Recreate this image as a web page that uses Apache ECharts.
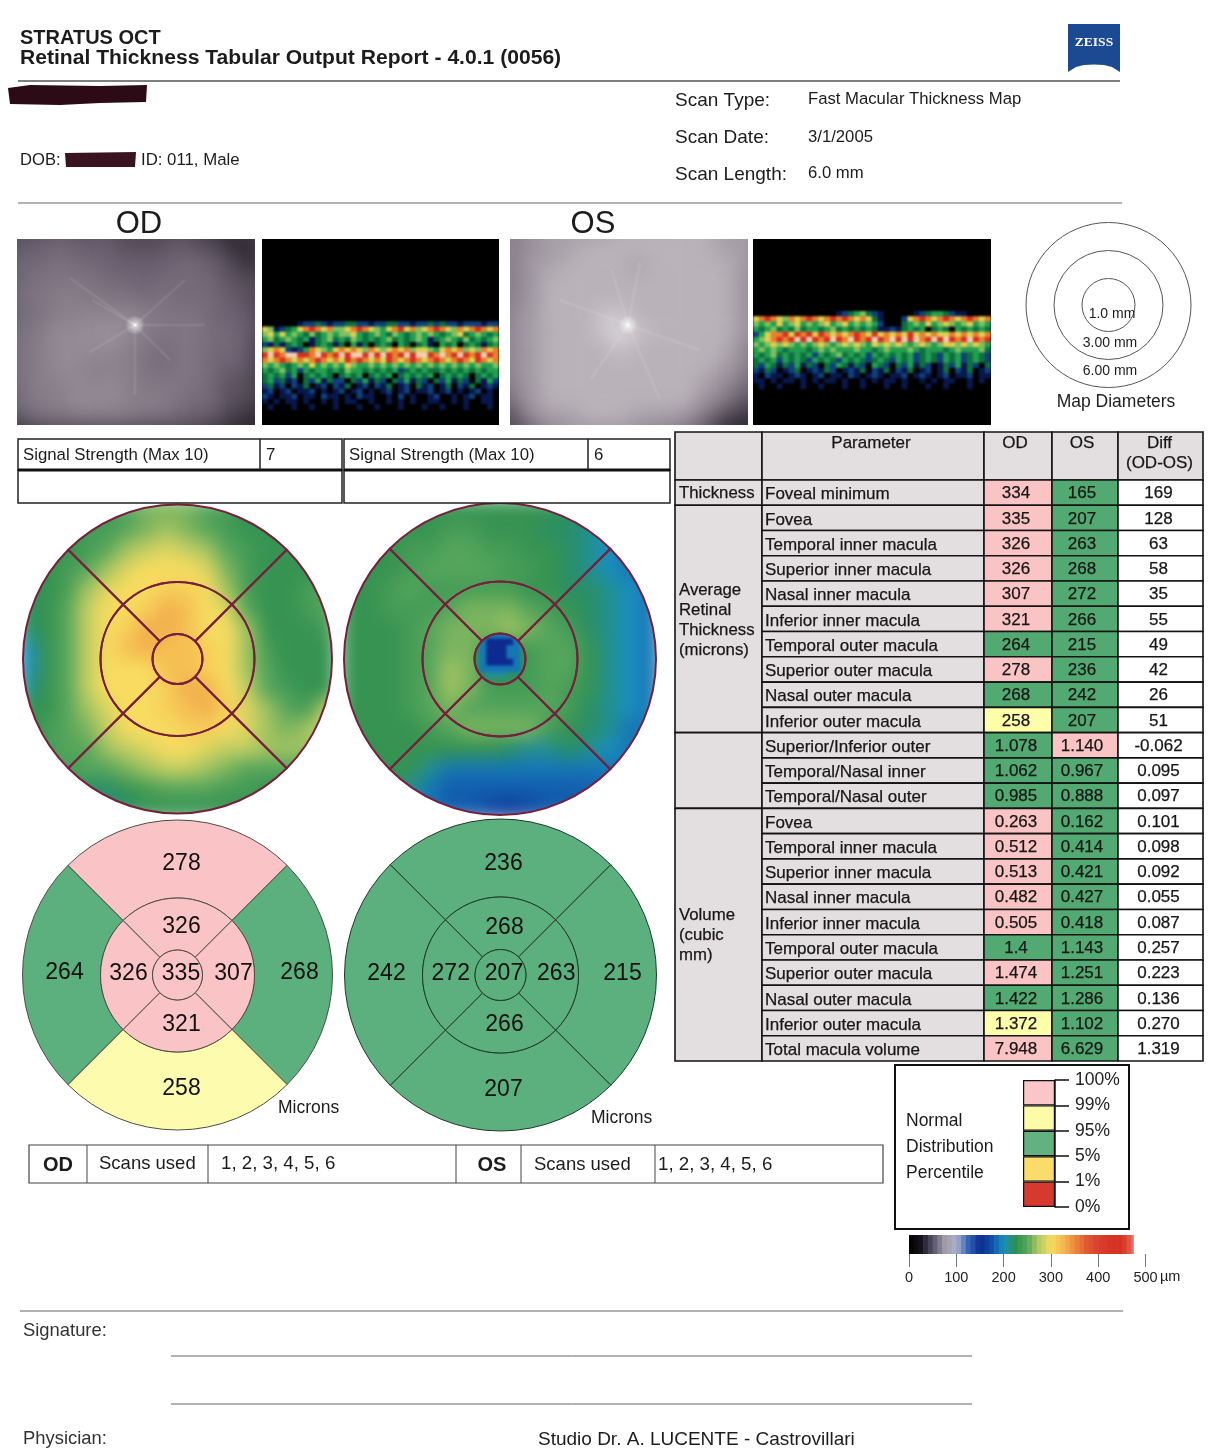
<!DOCTYPE html>
<html><head><meta charset="utf-8">
<style>
html,body{margin:0;padding:0;background:#fff;width:1216px;height:1456px;overflow:hidden}
#main{position:absolute;left:0;top:0;width:1216px;height:1456px;z-index:10}
.panel{position:absolute;overflow:hidden}
.panel>div{position:absolute}
</style>
<script src="https://cdn.jsdelivr.net/npm/echarts@6/dist/echarts.min.js"></script>
</head><body>
<div id="main"></div>
<script>
/* ---------- table ---------- */
const rowNames = ['Foveal minimum','Fovea','Temporal inner macula','Superior inner macula','Nasal inner macula','Inferior inner macula','Temporal outer macula','Superior outer macula','Nasal outer macula','Inferior outer macula','Superior/Inferior outer','Temporal/Nasal inner','Temporal/Nasal outer','Fovea','Temporal inner macula','Superior inner macula','Nasal inner macula','Inferior inner macula','Temporal outer macula','Superior outer macula','Nasal outer macula','Inferior outer macula','Total macula volume'];
const odValues = ['334','335','326','326','307','321','264','278','268','258','1.078','1.062','0.985','0.263','0.512','0.513','0.482','0.505','1.4','1.474','1.422','1.372','7.948'];
const osValues = ['165','207','263','268','272','266','215','236','242','207','1.140','0.967','0.888','0.162','0.414','0.421','0.427','0.418','1.143','1.251','1.286','1.102','6.629'];
const diffValues = ['169','128','63','58','35','55','49','42','26','51','-0.062','0.095','0.097','0.101','0.098','0.092','0.055','0.087','0.257','0.223','0.136','0.270','1.319'];
const odClasses = 'ppppppgpgy' + 'ggg' + 'pppppgpgyp';
const osClasses = 'gggggggggg' + 'pgg' + 'gggggggggg';
/* ---------- sector maps: superior, right, inferior, left ---------- */
const odOuter = [278,268,258,264];
const odInner = [326,307,321,326];
const odCenter = [335];
const osOuter = [236,215,207,242];
const osInner = [268,263,266,272];
const osCenter = [207];
const odOuterClass = ['p','g','y','g'];
const odInnerClass = ['p','p','p','p'];
const odCenterClass = ['p'];
const osOuterClass = ['g','g','g','g'];
const osInnerClass = ['g','g','g','g'];
const osCenterClass = ['g'];
/* ---------- legends ---------- */
const percentileLabels = ['0%','1%','5%','95%','99%','100%'];
const percentileColors = ['#d63a2e','#fbdc6a','#62b27f','#fdfba8','#fbc6c8'];
const colorBarValues = [0,10,20,30,40,50,60,70,80,90,100,110,120,130,140,150,160,170,180,190,200,210,220,230,240,250,260,270,280,290,300,310,320,330,340,350,360,370,380,390,400,410,420,430,440,450,460,470];
const thicknessPalette = ['#000000','#15121c','#55506a','#a09aa5','#aab0cc','#3566b6','#0c2a90','#1050a8','#1a8fc0','#2e8f4e','#55a55c','#b4cb62','#f8dc60','#f4b850','#ec8a3e','#e05a30','#d84030','#d63526','#d63020','#e67060','#ffffff'];
/* ---------- estimated thickness, tens of microns ---------- */
const thicknessOD = [
[23,23,23,23,24,25,26,26,26,25,24,23,23,23,23,23],
[23,23,23,24,24,25,26,27,26,25,24,23,23,23,23,23],
[23,23,23,24,25,27,28,29,28,27,25,24,23,23,23,23],
[23,23,24,25,27,29,30,30,30,29,26,24,23,23,23,23],
[23,23,24,27,29,30,30,31,31,30,27,24,23,23,24,25],
[22,23,25,28,30,30,31,33,32,30,29,25,23,23,24,25],
[22,23,25,28,30,31,33,33,32,30,30,27,23,23,23,24],
[20,23,25,28,30,32,33,32,32,31,30,27,24,23,23,23],
[20,23,25,28,30,30,30,32,32,31,30,27,25,23,23,23],
[21,23,25,28,30,30,30,31,33,33,30,28,25,24,23,23],
[23,23,25,27,29,30,30,31,32,33,31,29,27,25,24,28],
[23,24,25,26,28,30,30,30,31,31,30,29,27,26,27,29],
[23,24,25,25,27,28,29,30,30,29,28,28,27,27,27,27],
[23,24,24,25,25,26,27,28,28,27,26,25,25,25,25,25],
[23,23,23,22,22,23,24,25,25,25,24,24,23,23,23,23],
[23,23,23,22,21,22,23,23,23,23,23,23,23,23,23,23]];
const thicknessOS = [
[22,22,22,23,23,23,23,23,23,23,23,22,21,20,20,20],
[22,23,23,23,23,24,24,23,23,23,22,22,21,20,19,19],
[23,23,23,24,24,25,25,24,24,23,23,22,21,20,19,19],
[23,23,23,24,25,25,25,25,24,24,23,22,21,20,19,19],
[23,23,24,25,24,24,24,24,24,23,23,22,22,21,20,19],
[23,23,24,24,24,25,26,26,26,25,24,23,22,21,20,19],
[23,23,23,24,25,26,26,26,27,26,25,24,22,21,20,19],
[23,23,23,24,25,26,26,24,23,24,25,25,23,21,20,19],
[23,23,23,24,25,27,26,24,23,24,25,25,23,21,20,19],
[23,23,23,24,25,27,26,24,24,24,25,24,23,21,20,19],
[23,23,23,24,25,26,25,25,25,25,25,24,22,21,20,19],
[23,23,23,23,24,25,26,26,26,26,24,23,22,21,19,19],
[22,23,23,23,23,23,23,23,22,21,21,22,21,20,19,19],
[22,22,23,23,21,19,19,19,19,19,19,19,19,19,19,19],
[22,22,22,21,19,18,18,18,18,18,18,18,18,19,19,19],
[22,22,21,20,19,18,18,17,16,17,18,18,19,19,19,19]];
const foveaOS = [
[23,22,19,19,19,19,22,23],
[22,19,15,15,15,15,19,22],
[22,19,15,15,15,19,19,22],
[22,19,15,15,15,19,19,22],
[22,19,15,15,15,15,19,22],
[22,19,19,19,19,19,19,22],
[23,22,21,21,21,22,22,23],
[24,23,23,23,23,23,23,24]];
/* ---------- fundus brightness, hex digit per cell ---------- */
const fundusOD = ['4556555444543234','5667666555655323','6778776666776533','6788887767777554','6889988878777654','67899a9a98887664','789aaaba98887764','789aaaa987887763','789aa99987887663','7899a9a988887553','6899aaa999877553','5788999988766432','2344444444443221'];
const fundusOS = ['789aaaabbbbbbaa9','789aabbbbbbbbaa9','78aabbbbabbbbba9','78abbbbbbbbbbba8','78abbbbbbbbbbba8','79abbbccbbbbbba8','79abbbcdcbbbbba8','79abbbbcbbbbbb97','79abbbbbbbbbba96','69abbbbbbbbba975','58abbbbbbbbb9854','369aabbbaaa97432','2468999998764211'];
/* ---------- OCT b-scan reflectivity, digit per cell ---------- */
const octOD = ['','','','','','','','','','','','','','','','',
'0000001223212233221223322122323221222122',
'6512346787675567876546786756787657678767',
'5646454353454556434543543454543456345434',
'4534543413453435434345343454134543534345',
'2131343013431304130343043034104340343134',
'5676212476546767657656767566546767565767',
'8987998879878989989898789899879789878987',
'7678767678767687876768767876787678768767',
'5454345464545465445454545454545454545445',
'4345342434434354434343423434334343434344',
'3434240343430343403434034343403434303434',
'3423120324132203241320324132032413203142',
'2312021301202130120213012031201302130121',
'1201201120101201201012012011201201012010',
'2101120110211010211001020100120010120110',
'1010110100101011001001010100110010100110',
'0100010010001000100100010001001000100010',
'','',''];
const octOS = ['','','','','','','','','','','','','','',
'0000000000000012345321000001234432110000','6787657678767878767631000267876787678767','5454645645456456454542000345464565456454','4345343534434534343431121343403430434343','2467786878687676787686767686767667676767','4567878989878987987898798989789898789878','5456565454565456565465656545654566565654','4545434443454544454434544454344434544453','4345343434243453434243434342343243423432','3434243432434324343234324342343243423432','3243132413203243132043203241320132413203','2132012301213201213021302130120130213012','1021101210120110210121011201210120112011','1101011010101101001010110100101011001010','0100100010010001001000100100010010001000','','','','','','',''];
const octPalette = ['#000000','#08184e','#10407c','#0e7040','#22a050','#80c060','#e0d050','#e88030','#d83020','#f4d0b8'];
const fundusPalette = ['#0e0a10','#6a6070','#a8a0a8','#ffffff'];

const FONT = '"Liberation Sans", Arial, sans-serif';
const classColor = {p:'#fac4c6', g:'#5bb07e', y:'#fdfcae'};
const cellGreen = '#52aa72', cellPink = '#fbc4c4', cellYellow = '#feffa8', cellGrey = '#e3dfe1';
const cellColor = {p:cellPink, g:cellGreen, y:cellYellow};

/* heat panels sit beneath the transparent main chart */
function heatPanel(rows, box, opt){
  const wrap = document.createElement('div');
  wrap.className = 'panel';
  wrap.style.cssText = `left:${box.x}px;top:${box.y}px;width:${box.w}px;height:${box.h}px;background:${opt.bg||'transparent'};` + (opt.clip?`clip-path:circle(${opt.clip}px at ${opt.cx}px ${opt.cy}px);`:'');
  const pad = opt.pad||0;
  const inner = document.createElement('div');
  inner.style.cssText = `left:${-pad}px;top:${-pad}px;width:${box.w+2*pad}px;height:${box.h+2*pad}px;filter:blur(${opt.blur}px)`;
  wrap.appendChild(inner);
  document.body.appendChild(wrap);
  const c = echarts.init(inner, null, {renderer:'canvas'});
  const nRows = rows.length;
  const nCols = opt.cols || rows[0].length;
  const data = [];
  rows.forEach((row,y)=>{ for(let x=0;x<row.length;x++){ const v = opt.read(row[x]); data.push([x,y,v]); } });
  c.setOption({
    animation:false,
    grid:{left:0,right:0,top:0,bottom:0},
    xAxis:{type:'category',show:false,data:Array.from({length:nCols},(_,i)=>i)},
    yAxis:{type:'category',show:false,inverse:true,data:Array.from({length:nRows},(_,i)=>i)},
    visualMap:{show:false,dimension:2,min:opt.min,max:opt.max,inRange:{color:opt.colors}},
    series:[{type:'heatmap',data,silent:true,progressive:0,itemStyle:{borderWidth:0}}]
  });
}
const tens = v=>v;
const hex = ch=>parseInt(ch,16);
heatPanel(thicknessOD,{x:17,y:499,w:320,h:320},{blur:9,clip:154.5,cx:160.5,cy:160,read:tens,min:0,max:50,colors:thicknessPalette});
heatPanel(thicknessOS,{x:340,y:499,w:320,h:320},{blur:9,clip:156,cx:160,cy:160,read:tens,min:0,max:50,colors:thicknessPalette});
heatPanel(foveaOS,{x:473,y:632,w:54,h:54},{blur:1.5,clip:25,cx:27,cy:27,read:tens,min:0,max:50,colors:thicknessPalette});
heatPanel(fundusOD,{x:17,y:239,w:238,h:186},{blur:10,pad:16,read:hex,min:0,max:18,colors:fundusPalette,bg:'#6a6070'});
heatPanel(fundusOS,{x:510,y:239,w:238,h:186},{blur:10,pad:16,read:hex,min:0,max:15,colors:fundusPalette,bg:'#a8a0a8'});
heatPanel(octOD,{x:262,y:239,w:237,h:186},{blur:1,cols:40,read:hex,min:0,max:9,colors:octPalette,bg:'#000'});
heatPanel(octOS,{x:753,y:239,w:238,h:186},{blur:1,cols:40,read:hex,min:0,max:9,colors:octPalette,bg:'#000'});

/* ---------- main chart ---------- */
const chart = echarts.init(document.getElementById('main'), null, {renderer:'canvas'});
const grids=[], xAxes=[], yAxes=[], series=[];
function addGrid(g,x,y){ grids.push(g); xAxes.push(Object.assign({gridIndex:grids.length-1},x)); yAxes.push(Object.assign({gridIndex:grids.length-1},y)); return grids.length-1; }

function tableColumn(left,width,cells){
  const i = addGrid({left,top:432,width,height:629},{type:'value',min:0,max:1,show:false},{type:'value',min:-1.9,max:23,inverse:true,show:false});
  series.push({type:'custom',xAxisIndex:i,yAxisIndex:i,silent:true,clip:false,z:3,
    data:cells.map(c=>[0.5,c.r0]),encode:{x:0,y:1},
    renderItem(params,api){
      const c = cells[params.dataIndex];
      const a = api.coord([0,c.r0]), b = api.coord([1,c.r1]);
      const tx = c.align==='left' ? a[0]+(c.pad||3) : (a[0]+b[0])/2+(c.dx||0);
      const ty = c.top ? a[1]+1 : (a[1]+b[1])/2+(c.dy===undefined?1:c.dy);
      return {type:'group',children:[
        {type:'rect',shape:{x:a[0],y:a[1],width:b[0]-a[0],height:b[1]-a[1]},style:{fill:c.fill,stroke:'#141414',lineWidth:1.6}},
        {type:'text',style:{x:tx,y:ty,text:c.text,fill:'#161616',font:`${c.size||17}px ${FONT}`,align:c.align||'center',verticalAlign:c.top?'top':'middle',lineHeight:c.lh||20,stroke:'#161616',lineWidth:0.25}}
      ]};
    }});
}
const headTop = -1.9;
tableColumn(675,87,[
  {r0:headTop,r1:0,text:'',fill:cellGrey},
  {r0:0,r1:1,text:'Thickness',fill:cellGrey,align:'left',pad:4,size:16.8},
  {r0:1,r1:10,text:'Average\nRetinal\nThickness\n(microns)',fill:cellGrey,align:'left',pad:4,size:16.8},
  {r0:10,r1:13,text:'',fill:cellGrey},
  {r0:13,r1:23,text:'Volume\n(cubic\nmm)',fill:cellGrey,align:'left',pad:4,size:16.8}]);
tableColumn(762,222,[{r0:headTop,r1:0,text:'Parameter',fill:cellGrey,top:true,dx:-2}].concat(rowNames.map((t,r)=>({r0:r,r1:r+1,text:t,fill:cellGrey,align:'left',dy:2}))));
tableColumn(984,68,[{r0:headTop,r1:0,text:'OD',fill:cellGrey,top:true,dx:-3}].concat(odValues.map((t,r)=>({r0:r,r1:r+1,text:t,fill:cellColor[odClasses[r]],dx:-2}))));
tableColumn(1052,66,[{r0:headTop,r1:0,text:'OS',fill:cellGrey,top:true,dx:-3}].concat(osValues.map((t,r)=>({r0:r,r1:r+1,text:t,fill:cellColor[osClasses[r]],dx:-3}))));
tableColumn(1118,85,[{r0:headTop,r1:0,text:'Diff\n(OD-OS)',fill:cellGrey,top:true,dx:-1}].concat(diffValues.map((t,r)=>({r0:r,r1:r+1,text:t,fill:'#ffffff',dx:-2}))));

/* percentile legend */
{
  const i = addGrid({left:1023,top:1080,width:32,height:127},
    {type:'category',data:['percentile'],show:false},
    {type:'value',min:0,max:5,interval:1,position:'right',splitLine:{show:false},
     axisLine:{show:true,lineStyle:{color:'#111',width:1.5}},axisTick:{show:true,length:14,lineStyle:{color:'#111',width:1.5}},
     axisLabel:{margin:20,color:'#222',fontFamily:FONT,fontSize:17.5,formatter:v=>percentileLabels[v]}});
  percentileColors.forEach(col=>series.push({type:'bar',stack:'p',xAxisIndex:i,yAxisIndex:i,barWidth:'100%',silent:true,data:[1],itemStyle:{color:col,borderColor:'#111',borderWidth:1.2}}));
}
/* thickness colour bar */
{
  const i = addGrid({left:909,top:1235,width:236.5,height:19},
    {type:'value',min:0,max:500,interval:100,position:'bottom',splitLine:{show:false},axisLine:{show:false},
     axisTick:{show:true,length:13,lineStyle:{color:'#777',width:1}},
     axisLabel:{margin:16,color:'#222',fontFamily:FONT,fontSize:14.5}},
    {type:'value',min:0,max:1,show:false});
  const lerpColor = v=>echarts.color.lerp(v/500,thicknessPalette);
  series.push({type:'custom',xAxisIndex:i,yAxisIndex:i,silent:true,clip:false,data:colorBarValues.map(v=>[v,0]),encode:{x:0,y:1},
    renderItem(params,api){
      const v = api.value(0);
      const a = api.coord([v,1]), b = api.coord([Math.min(v+10,474),0]);
      return {type:'rect',shape:{x:a[0],y:a[1],width:b[0]-a[0]+0.6,height:b[1]-a[1]},style:{fill:lerpColor(v+5)}};
    }});
}
/* sector maps as nested pies */
function ring(center,radius,values,classes,colorMap,border,bw,offsets,showLabel,centered){
  series.push({type:'pie',center,radius,startAngle:135,silent:true,clockwise:true,animation:false,avoidLabelOverlap:false,z:5,
    data:values.map((v,k)=>({name:String(v),value:1,itemStyle:{color:colorMap?colorMap[classes[k]]:'transparent'},label:{offset:offsets?offsets[k]:[0,0]}})),
    itemStyle:{borderColor:border,borderWidth:bw},
    label:{show:showLabel,position:centered?'center':'inside',formatter:'{b}',color:'#111',fontFamily:FONT,fontSize:23,textBorderWidth:0},
    labelLine:{show:false},emphasis:{disabled:true}});
}
const odC2=[177.5,975], osC2=[500.5,975];
ring(odC2,[77,155],odOuter,odOuterClass,classColor,'#4c4c44',1,[[4,8],[3,-2],[4,-5],[6,-2]],true);
ring(odC2,[25,77],odInner,odInnerClass,classColor,'#4c4c44',1,[[4,6],[2,-1],[4,-4],[5,-1]],true);
ring(odC2,[0,25],odCenter,odCenterClass,classColor,'#4c4c44',1,[[3.5,-1]],true,true);
ring(osC2,[78,156],osOuter,osOuterClass,classColor,'#1e3a28',1,[[3,9],[2,-1],[3,-5],[6,-1]],true);
ring(osC2,[25.5,78],osInner,osInnerClass,classColor,'#1e3a28',1,[[4,7],[1,-1],[4,-5],[5,-1]],true);
ring(osC2,[0,25.5],osCenter,osCenterClass,classColor,'#1e3a28',1,[[3.5,-1]],true,true);
const lineRed='#76203e';
ring([177.5,659],[77,154.5],odOuter,odOuterClass,null,lineRed,2,null,false);
ring([177.5,659],[25,77],odInner,odInnerClass,null,lineRed,2,null,false);
ring([177.5,659],[0,25],odCenter,odCenterClass,null,lineRed,2,null,false);
ring([500,659],[77.5,156],osOuter,osOuterClass,null,lineRed,2,null,false);
ring([500,659],[25.5,77.5],osInner,osInnerClass,null,lineRed,2,null,false);
ring([500,659],[0,25.5],osCenter,osCenterClass,null,lineRed,2,null,false);

/* ---------- static page furniture ---------- */
const g=[];
const T=(x,y,text,size,o={})=>g.push({type:'text',z:o.z||20,silent:true,style:{x,y:y+1,text,fill:o.fill||'#1c1c1c',font:`${o.bold?'bold ':''}${size}px ${o.family||FONT}`,align:o.align||'left',verticalAlign:'middle'}});
const L=(x1,y1,x2,y2,w=1,c='#555')=>g.push({type:'line',z:20,silent:true,shape:{x1,y1,x2,y2},style:{stroke:c,lineWidth:w}});
const R=(x,y,w,h,fill,stroke,lw=1)=>g.push({type:'rect',z:19,silent:true,shape:{x,y,width:w,height:h},style:{fill:fill||'transparent',stroke:stroke||null,lineWidth:lw}});
const C=(cx,cy,r,c='#555')=>g.push({type:'circle',z:20,silent:true,shape:{cx,cy,r},style:{fill:'transparent',stroke:c,lineWidth:1}});
const P=(points,fill)=>g.push({type:'polygon',z:19,silent:true,shape:{points},style:{fill}});

T(20,37,'STRATUS OCT',20,{bold:true});
T(20,57,'Retinal Thickness Tabular Output Report - 4.0.1 (0056)',21.1,{bold:true});
L(18,81,1120,81,1.5,'#555');
L(18,203,1122,203,1.2,'#666');
P([[1068,24],[1120,24],[1120,72],[1112,67],[1104,65],[1094,64.5],[1084,65],[1076,67],[1068,72]],'#1c4a92');
T(1094,42,'ZEISS',13.5,{bold:true,fill:'#fff',align:'center',family:'"Liberation Serif",serif'});
P([[8,88],[30,85],[100,86],[147,85],[146,102],[100,103],[60,105],[10,104]],'#2c0a16');
P([[65,153],[136,152],[135,167],[66,167]],'#3a1320');
T(20,159,'DOB:',16.6); T(141,159,'ID: 011, Male',16.8);
T(675,100,'Scan Type:',19); T(675,137,'Scan Date:',19); T(675,174,'Scan Length:',19);
T(808,98,'Fast Macular Thickness Map',16.7); T(808,136,'3/1/2005',16.7); T(808,172,'6.0 mm',16.7);
T(139,223,'OD',31,{align:'center'}); T(593,223,'OS',31,{align:'center'});

/* fundus bright spots and faint vessels */
[[135,325,[[70,278],[92,300],[185,280],[205,325],[135,395],[90,352],[170,360]]],[628,325,[[612,270],[640,262],[590,380],[660,400],[700,350],[560,300]]]].forEach(([cx,cy,ends])=>{
  ends.forEach(e=>g.push({type:'line',z:15,silent:true,shape:{x1:cx,y1:cy,x2:e[0],y2:e[1]},style:{stroke:'rgba(255,255,255,0.07)',lineWidth:3,shadowBlur:4,shadowColor:'rgba(255,255,255,0.15)'}}));
  g.push({type:'circle',z:16,silent:true,shape:{cx,cy,r:10},style:{fill:{type:'radial',x:.5,y:.5,r:.5,colorStops:[{offset:0,color:'rgba(255,255,255,1)'},{offset:.25,color:'rgba(255,255,255,.55)'},{offset:1,color:'rgba(255,255,255,0)'}]}}});
});

/* map diameters */
C(1108.5,305,82.5); C(1108.5,305,54.5); C(1108.5,305,26.5);
T(1112,313,'1.0 mm',14,{align:'center'}); T(1110,342,'3.00 mm',14,{align:'center'}); T(1110,370,'6.00 mm',14,{align:'center'});
T(1116,401,'Map Diameters',17.5,{align:'center',fill:'#222'});

/* signal strength boxes */
[[18,324,260,'7'],[344,326,588,'6']].forEach(([x,w,d,v])=>{
  R(x,439,w,31,'#fff','#222',1.5); R(x,470,w,33,'#fff','#222',1.5);
  L(x,470,x+w,470,3,'#111'); L(d,439,d,470,1.5,'#222');
  T(x+5,454,'Signal Strength (Max 10)',16.8); T(d+6,454,v,16.8);
});
/* scans table */
R(29,1145,854,38,'#fff','#444',1.2);
[87,208,456,521,655].forEach(x=>L(x,1145,x,1183,1,'#444'));
T(58,1164,'OD',20,{bold:true,align:'center'}); T(492,1164,'OS',20,{bold:true,align:'center'});
T(99,1163,'Scans used',18.5); T(534,1164,'Scans used',18.5);
T(221,1163,'1, 2, 3, 4, 5, 6',18.7); T(658,1164,'1, 2, 3, 4, 5, 6',18.7);
T(278,1107,'Microns',17.5); T(591,1117,'Microns',17.5);
/* legend box */
R(895,1065,234,164,'transparent','#111',2);
T(906,1120,'Normal',17.5); T(906,1146,'Distribution',17.5); T(906,1172,'Percentile',17.5);
T(1160,1276,'µm',14.5);
/* footer */
L(20,1311,1123,1311,1.2,'#666');
L(171,1356,972,1356,1,'#666'); L(171,1404,972,1404,1,'#666');
T(23,1330,'Signature:',18.4,{fill:'#333'}); T(23,1438,'Physician:',18.4,{fill:'#333'});
T(538,1439,'Studio Dr. A. LUCENTE - Castrovillari',19);

chart.setOption({animation:false,backgroundColor:'transparent',grid:grids,xAxis:xAxes,yAxis:yAxes,series,graphic:{elements:g}});
</script>
</body></html>
